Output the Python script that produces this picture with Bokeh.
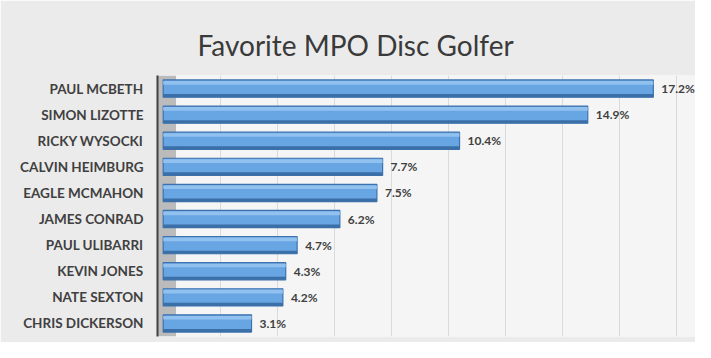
from bokeh.plotting import figure
from bokeh.models import ColumnDataSource, Title, BoxAnnotation
from bokeh.transform import dodge
from bokeh.core.properties import value
from bokeh.embed import file_html
from bokeh.resources import INLINE

players = ["PAUL MCBETH", "SIMON LIZOTTE", "RICKY WYSOCKI", "CALVIN HEIMBURG",
           "EAGLE MCMAHON", "JAMES CONRAD", "PAUL ULIBARRI", "KEVIN JONES",
           "NATE SEXTON", "CHRIS DICKERSON"]
shares = [17.2, 14.9, 10.4, 7.7, 7.5, 6.2, 4.7, 4.3, 4.2, 3.1]
labels = ["17.2%", "14.9%", "10.4%", "7.7%", "7.5%", "6.2%", "4.7%", "4.3%", "4.2%", "3.1%"]
title_text = "Favorite MPO Disc Golfer"

cats = list(reversed(players))
src = ColumnDataSource(dict(name=players, share=shares, label=labels))

p = figure(width=695, height=342, y_range=cats, x_range=(-0.2, 18.68),
           output_backend="svg", toolbar_location=None,
           min_border_left=157, min_border_right=0, min_border_top=75, min_border_bottom=6)

p.background_fill_color = "#f5f5f5"
p.border_fill_color = "#ebebeb"
p.outline_line_color = None

t = Title(text=title_text, align="left", offset=40, text_font="Lato",
          text_font_size="28px", text_color="#3a3a3a", text_font_style="normal",
          standoff=23, vertical_align="top")
p.title = t

# floor strip along the axis (behind bars)
p.add_layout(BoxAnnotation(left=-0.2, right=0.45, fill_color="#b0b0b0", fill_alpha=0.85,
                           line_color=None, level="underlay"))

# bars: front face, bottom shadow edge, top highlight
p.hbar(y="name", right="share", left=0, height=0.66, source=src,
       fill_color="#68a5e3", line_color="#3d72ad", line_width=1.2)
p.hbar(y=dodge("name", -0.27, range=p.y_range), right="share", left=0, height=0.12,
       source=src, fill_color="#3b6fa7", line_color=None)
p.hbar(y=dodge("name", 0.22, range=p.y_range), right="share", left=0, height=0.14,
       source=src, fill_color="#96c4f0", line_color=None, fill_alpha=0.9)

p.text(x="share", y="name", text="label", source=src, x_offset=8,
       text_align="left", text_baseline="middle", text_font=value("Lato"),
       text_font_size="12px", text_font_style="bold", text_color="#404040")

p.xaxis.visible = False
p.xgrid.ticker = [2, 4, 6, 8, 10, 12, 14, 16, 18]
p.xgrid.grid_line_color = "#dadada"
p.ygrid.grid_line_color = None

ax = p.yaxis[0]
ax.axis_line_color = "#404040"
ax.axis_line_width = 2
ax.major_tick_line_color = None
ax.minor_tick_line_color = None
ax.major_label_standoff = 8
ax.major_label_text_font = "Lato"
ax.major_label_text_font_size = "13.5px"
ax.major_label_text_font_style = "bold"
ax.major_label_text_color = "#404040"

open("out.html", "w").write(file_html(p, INLINE))
